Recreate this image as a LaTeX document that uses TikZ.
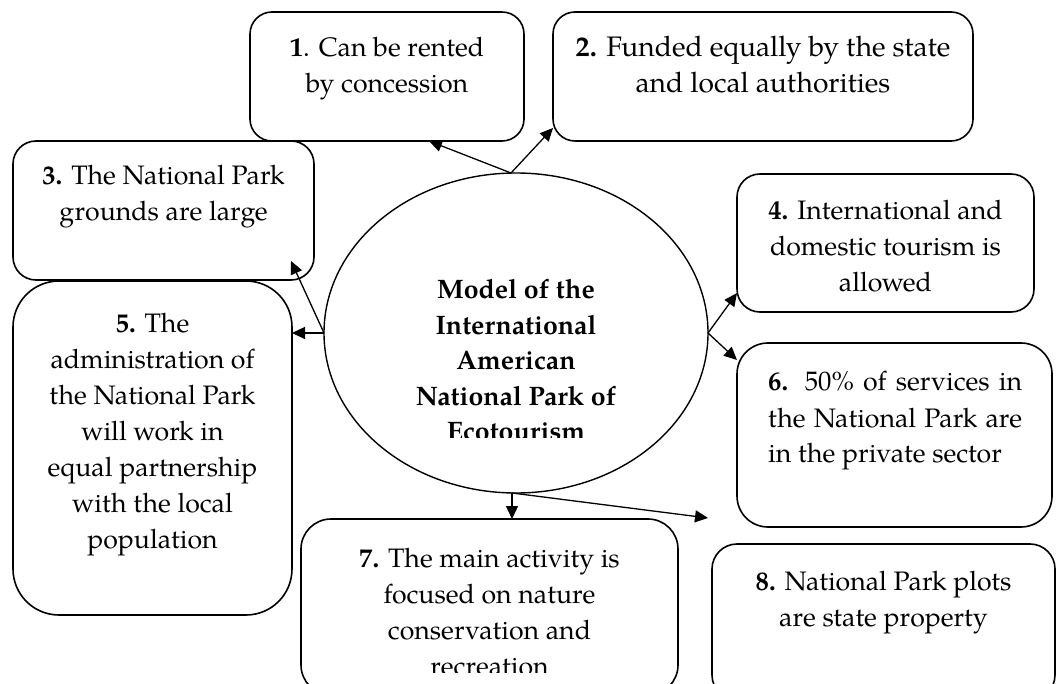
\documentclass[tikz,border=0pt]{standalone}
\usepackage{fontspec}
\setmainfont{texgyrepagella}[Extension=.otf,UprightFont=*-regular,BoldFont=*-bold,ItalicFont=*-italic,BoldItalicFont=*-bolditalic]
\usetikzlibrary{shapes.geometric,arrows.meta}
\begin{document}
\begin{tikzpicture}[x=1pt,y=-1pt,
  box/.style={draw, line width=1.6pt, rounded corners=#1, inner sep=0pt, outer sep=0pt},
  oval/.style={draw, ellipse, line width=1.4pt, inner sep=0pt, outer sep=0pt},
  txt/.style={anchor=base, inner sep=0pt, font=\fontsize{26.7}{36}\selectfont},
  ttl/.style={anchor=base, inner sep=0pt, font=\fontsize{26.7}{35.5}\selectfont\bfseries},
  arr/.style={-{Triangle[length=13pt,width=12pt]}, line width=1.3pt}]
\clip (0,0) rectangle (1060,684);
\fill[white] (0,0) rectangle (1060,684);
% boxes
\node[box=22pt, minimum width=274pt, minimum height=129pt] (b1) at (387,76.5) {};
\node[box=22pt, minimum width=420pt, minimum height=129pt] (b2) at (763,76.5) {};
\node[box=23pt, minimum width=301pt, minimum height=139pt] (b3) at (163.5,210.5) {};
\node[box=23pt, minimum width=297pt, minimum height=138pt] (b4) at (885.5,243) {};
\node[box=46pt, minimum width=279pt, minimum height=334pt] (b5) at (152.5,448) {};
\node[box=31pt, minimum width=315pt, minimum height=184pt] (b6) at (894.5,435) {};
\node[box=30pt, minimum width=377pt, minimum height=176pt] (b7) at (489.5,607) {};
\node[box=25pt, minimum width=343pt, minimum height=156pt] (b8) at (883.5,622) {};
\node[oval, minimum width=384pt, minimum height=320pt] (c) at (516,333) {};
% texts
\node[txt] (t1) at (387,57) {\parbox[t]{260pt}{\centering\textbf{1}. Can be rented\\by concession}};
\node[txt, font=\fontsize{28.2}{36}\selectfont] (t2) at (763,57) {\parbox[t]{400pt}{\centering\textbf{2.} Funded equally by the state\\and local authorities}};
\node[txt] (t3) at (163.5,185) {\parbox[t]{290pt}{\centering\textbf{3.} The National Park\\grounds are large}};
\node[txt] (t4) at (885.5,220) {\parbox[t]{290pt}{\centering\textbf{4.} International and\\domestic tourism is\\allowed}};
\node[txt] (t5) at (152.5,333) {\parbox[t]{270pt}{\centering\textbf{5.} The\\administration of\\the National Park\\will work in\\equal partnership\\with the local\\population}};
\node[txt, anchor=base west] (t6) at (768,391) {\parbox[t]{254pt}{\makebox[254pt][s]{\textbf{6.} 50\% of services in}\\\makebox[254pt][s]{the National Park are}\\in the private sector}};
\node[txt] (t8) at (883.5,590) {\parbox[t]{330pt}{\centering\textbf{8.} National Park plots\\are state property}};
\begin{scope}
\clip (0,0) rectangle (1060,672);
\node[txt] (t7) at (489.5,567) {\parbox[t]{370pt}{\centering\textbf{7.} The main activity is\\focused on nature\\conservation and\\recreation}};
\end{scope}
\begin{scope}
\clip (0,0) rectangle (1060,437);
\node[ttl] (tc) at (516,299) {\parbox[t]{320pt}{\centering Model of the\\International\\American\\National Park of\\Ecotourism}};
\end{scope}
% connectors
\coordinate (e8) at (708,518);
\draw[arr] ([xshift=-5pt]c.north) -- ([xshift=42pt]b1.south);
\draw[arr] ([xshift=-5pt]c.north) -- ([yshift=-51.5pt]b2.west);
\draw[arr] (c.west) -- ([xshift=-23pt,yshift=19pt]b3.south east);
\draw[arr] (c.west) -- (c.west -| b5.east);
\draw[arr] (c.east) -- ([yshift=19pt]b4.south west);
\draw[arr] (c.east) -- ([yshift=-17pt]b6.north west);
\draw[arr] ([xshift=-4pt]c.south) -- ([xshift=-4pt]c.south |- b7.north);
\draw[arr] ([xshift=-4pt]c.south) -- (e8);
\end{tikzpicture}
\end{document}
